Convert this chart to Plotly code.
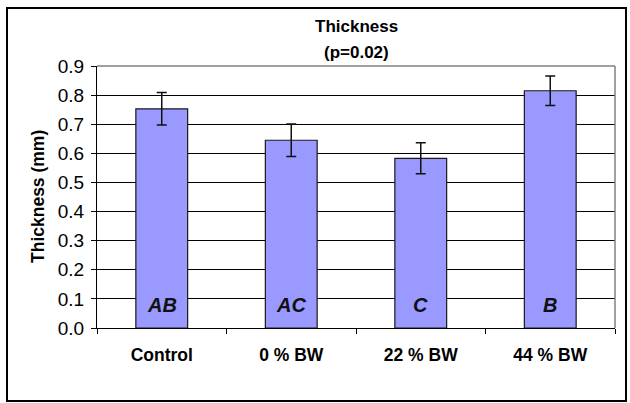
import plotly.graph_objects as go

categories = ["Control", "0 % BW", "22 % BW", "44 % BW"]
thickness = [0.753, 0.645, 0.583, 0.815]
errors = [0.056, 0.056, 0.053, 0.051]
letters = ["AB", "AC", "C", "B"]
y_ticks = [0.0, 0.1, 0.2, 0.3, 0.4, 0.5, 0.6, 0.7, 0.8, 0.9]
y_tick_labels = [f"{v:.1f}" for v in y_ticks]

FONT = "Arial, Liberation Sans, sans-serif"

fig = go.Figure()
fig.add_trace(go.Bar(
    x=categories, y=thickness,
    marker=dict(color="#9999FF", line=dict(color="#1a1a1a", width=1.2)),
    error_y=dict(type="data", array=errors, visible=True, color="#111111",
                 thickness=1.5, width=5),
    width=0.4,
))

for c, t in zip(categories, letters):
    fig.add_annotation(x=c, y=0.08, text=f"<b><i>{t}</i></b>", showarrow=False,
                       font=dict(family=FONT, size=20, color="#111111"),
                       xanchor="center", yanchor="middle")

# Titles
fig.add_annotation(xref="paper", yref="paper", x=0.5, y=1.0, yshift=40,
                   text="<b>Thickness</b>", showarrow=False,
                   font=dict(family=FONT, size=17, color="#000"),
                   xanchor="center", yanchor="middle")
fig.add_annotation(xref="paper", yref="paper", x=0.5, y=1.0, yshift=14,
                   text="<b>(p=0.02)</b>", showarrow=False,
                   font=dict(family=FONT, size=17, color="#000"),
                   xanchor="center", yanchor="middle")
fig.add_annotation(xref="paper", yref="paper", x=0, xshift=-59, y=0.5,
                   text="<b>Thickness (mm)</b>", textangle=-90, showarrow=False,
                   font=dict(family=FONT, size=17.5, color="#000"),
                   xanchor="center", yanchor="middle")

# plot-area border top and right (gray)
fig.add_shape(type="line", xref="paper", yref="paper", x0=0, x1=1, y0=1, y1=1,
              line=dict(color="#808080", width=1.5), layer="above")
fig.add_shape(type="line", xref="paper", yref="paper", x0=1, x1=1, y0=0, y1=1,
              line=dict(color="#808080", width=1.5), layer="above")
# outer chart border
fig.add_shape(type="rect", xref="paper", yref="paper",
              x0=-90/518, x1=1 + 11/518, y0=-73/262, y1=1 + 58/262,
              line=dict(color="#000", width=2), layer="above")

fig.update_layout(
    width=630, height=403,
    margin=dict(l=97, r=15, t=66, b=75),
    paper_bgcolor="white", plot_bgcolor="white",
    showlegend=False,
    bargap=0.6,
    font=dict(family=FONT, color="#000"),
)
fig.update_xaxes(
    showline=True, linecolor="#000", linewidth=1.2,
    ticks="outside", ticklen=5, tickcolor="#000", tickson="boundaries",
    tickfont=dict(family=FONT, size=17.5, color="#000"),
    tickprefix="<b>", ticksuffix="</b>",
    ticklabelstandoff=11,
    showgrid=False,
)
fig.update_yaxes(
    range=[0, 0.9], tickvals=y_ticks, ticktext=y_tick_labels,
    showline=True, linecolor="#000", linewidth=1.2,
    ticks="outside", ticklen=5, tickcolor="#000",
    tickfont=dict(family=FONT, size=19, color="#000"),
    ticklabelstandoff=3,
    showgrid=True, gridcolor="#000", gridwidth=1,
    zeroline=False,
)

fig.write_html("out.html")
